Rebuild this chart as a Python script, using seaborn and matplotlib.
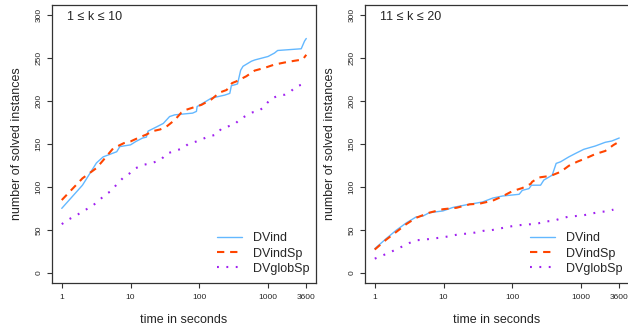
import matplotlib
matplotlib.use("Agg")
import matplotlib.pyplot as plt
import seaborn as sns

sns.set_style("white")
plt.rcParams["font.family"] = ["Liberation Sans", "DejaVu Sans"]

# left panel: 1 <= k <= 10
t_ind_1 = [1, 2, 3.2, 4, 6.3, 7, 10, 12, 15, 17, 18, 24, 30, 37, 44, 80, 91, 93, 100, 150,
           235, 278, 293, 328, 360, 400, 433, 574, 644, 1000, 1240, 1380, 3040, 3400, 3600]
v_ind_1 = [75, 102, 128, 135, 141, 147, 149, 153, 157, 158, 165, 170, 174, 182, 184, 186, 188, 193.7, 195, 203.5,
           207, 209, 218, 219, 220, 236, 240.6, 246.5, 248, 252, 256, 259, 261, 270, 273]
t_indsp_1 = [1, 2, 3.2, 4, 5.6, 8, 10, 13.7, 17, 21, 27, 33, 44, 55, 65, 108, 150, 198, 250,
             300, 346, 484, 640, 890, 1240, 1740, 2420, 3200, 3600]
v_indsp_1 = [84.7, 110, 122, 131, 145, 151, 153, 158, 161, 165, 167, 170, 178, 186.7, 190, 195.7, 202, 210, 213,
             221, 223, 229, 235.6, 238.7, 242.6, 245, 247, 248.5, 254]
t_glob_1 = [1, 1.25, 1.65, 2.06, 2.7, 3.4, 4.3, 5.3, 6.3, 7.9, 9.8, 12, 16, 21, 28, 33, 44, 58, 69, 91,
            113, 134, 178, 210, 262, 328, 390, 457, 600, 710, 840, 1100, 1480, 1740, 2120, 2560, 3040]
v_glob_1 = [56.6, 62, 67, 72, 77, 83.5, 91, 95.6, 103, 111, 116, 122, 126, 128, 132, 138.5, 142, 145, 150, 153,
            156, 158.6, 161, 168, 170.5, 173, 179, 182, 187, 188, 192, 202.7, 207, 207.4, 211, 217, 219]

# right panel: 11 <= k <= 20
t_ind_2 = [1, 1.47, 2.06, 2.87, 4.0, 5.0, 6.25, 9.8, 13.6, 21, 36.9, 52, 72, 126, 140, 175, 190, 258,
           288, 381, 435, 505, 665, 831, 1096, 1616, 2250, 2800, 3600]
v_ind_2 = [28, 39.8, 49.6, 58, 65, 66, 70, 72, 76, 79, 82.4, 87, 89.4, 91.4, 96, 98, 102, 102,
           108, 113.7, 127.4, 129.3, 135, 139, 143.8, 147.7, 152, 153.5, 157]
t_indsp_2 = [1, 1.47, 2.06, 2.87, 4.0, 6.25, 9.8, 15.5, 24, 33.5, 52, 72, 100, 140, 185, 195,
             244, 362, 505, 665, 877, 1225, 1616, 2250, 2960, 3300]
v_indsp_2 = [27, 38.6, 47.6, 56.6, 64, 70, 74, 75.7, 79.7, 80.5, 84, 89, 95, 98.7, 103.5, 106,
             111, 112.9, 117.6, 124.6, 129.3, 134, 138.3, 141.9, 148.8, 151]
t_glob_2 = [1, 1.32, 1.84, 2.43, 3.2, 4.0, 5.3, 7.0, 9.3, 12.2, 16, 22, 29, 38, 50, 66, 87, 115,
            150, 185, 244, 310, 403, 505, 650, 831, 1096, 1420, 1800, 2350, 2960]
v_glob_2 = [16.4, 20.3, 25.4, 30, 34.7, 37.8, 38.6, 39.8, 41, 42.5, 44.5, 45.6, 46.8, 48.8, 49.6, 51.5, 53.5, 55,
            56, 56.5, 57.7, 59.8, 60.5, 63.2, 65.2, 66, 67, 68.8, 70.7, 71.5, 73.5]

titles = ["1 \u2264 k \u2264 10", "11 \u2264 k \u2264 20"]
x_ticks = [1, 10, 100, 1000, 3600]
y_ticks = [0, 50, 100, 150, 200, 250, 300]

fig = plt.figure(figsize=(6.28, 3.30), dpi=100)
axes = [fig.add_axes([0.0828, 0.1424, 0.4204, 0.8424]),
        fig.add_axes([0.5812, 0.1424, 0.4204, 0.8424])]

panels = [(t_ind_1, v_ind_1, t_indsp_1, v_indsp_1, t_glob_1, v_glob_1),
          (t_ind_2, v_ind_2, t_indsp_2, v_indsp_2, t_glob_2, v_glob_2)]

for ax, data, title in zip(axes, panels, titles):
    ti, vi, ts, vs, tg, vg = data
    sns.lineplot(x=ti, y=vi, ax=ax, color="#63B8FF", linewidth=1.0, estimator=None, label="DVind")
    sns.lineplot(x=ts, y=vs, ax=ax, color="#FF4500", linewidth=1.5, estimator=None, label="DVindSp")
    ax.lines[-1].set_dashes([3.5, 2.8])
    sns.lineplot(x=tg, y=vg, ax=ax, color="#A020F0", linewidth=1.5, estimator=None, label="DVglobSp")
    ax.lines[-1].set_dashes([0.9, 3.6])
    ax.set_xscale("log")
    ax.set_xlim(10 ** -0.142, 10 ** 3.698)
    ax.set_ylim(-12, 312)
    ax.set_xticks(x_ticks)
    ax.set_xticklabels([str(t) for t in x_ticks])
    ax.minorticks_off()
    ax.set_yticks(y_ticks)
    ax.set_yticklabels([str(v) for v in y_ticks], rotation=90, va="center")
    ax.tick_params(direction="out", length=3.6, width=0.8, labelsize=6, color="#333333",
                   left=True, bottom=True)
    ax.tick_params(axis="x", pad=4.5)
    ax.tick_params(axis="y", pad=3)
    for s in ax.spines.values():
        s.set_color("#333333")
        s.set_linewidth(0.9)
    ax.set_xlabel("time in seconds", fontsize=9, labelpad=9)
    ax.set_ylabel("number of solved instances", fontsize=9, labelpad=9)
    ax.text(0.055, 0.957, title, transform=ax.transAxes, fontsize=9, va="center", ha="left")
    ax.legend(loc="lower left", bbox_to_anchor=(0.625, 0.03), frameon=False, fontsize=9,
              handlelength=2.0, handletextpad=0.9, labelspacing=0.25, borderpad=0,
              borderaxespad=0)

# the right panel runs past the edge of the image, its right border is cut off
axes[1].spines["right"].set_visible(False)

fig.savefig("out.png", dpi=100)
